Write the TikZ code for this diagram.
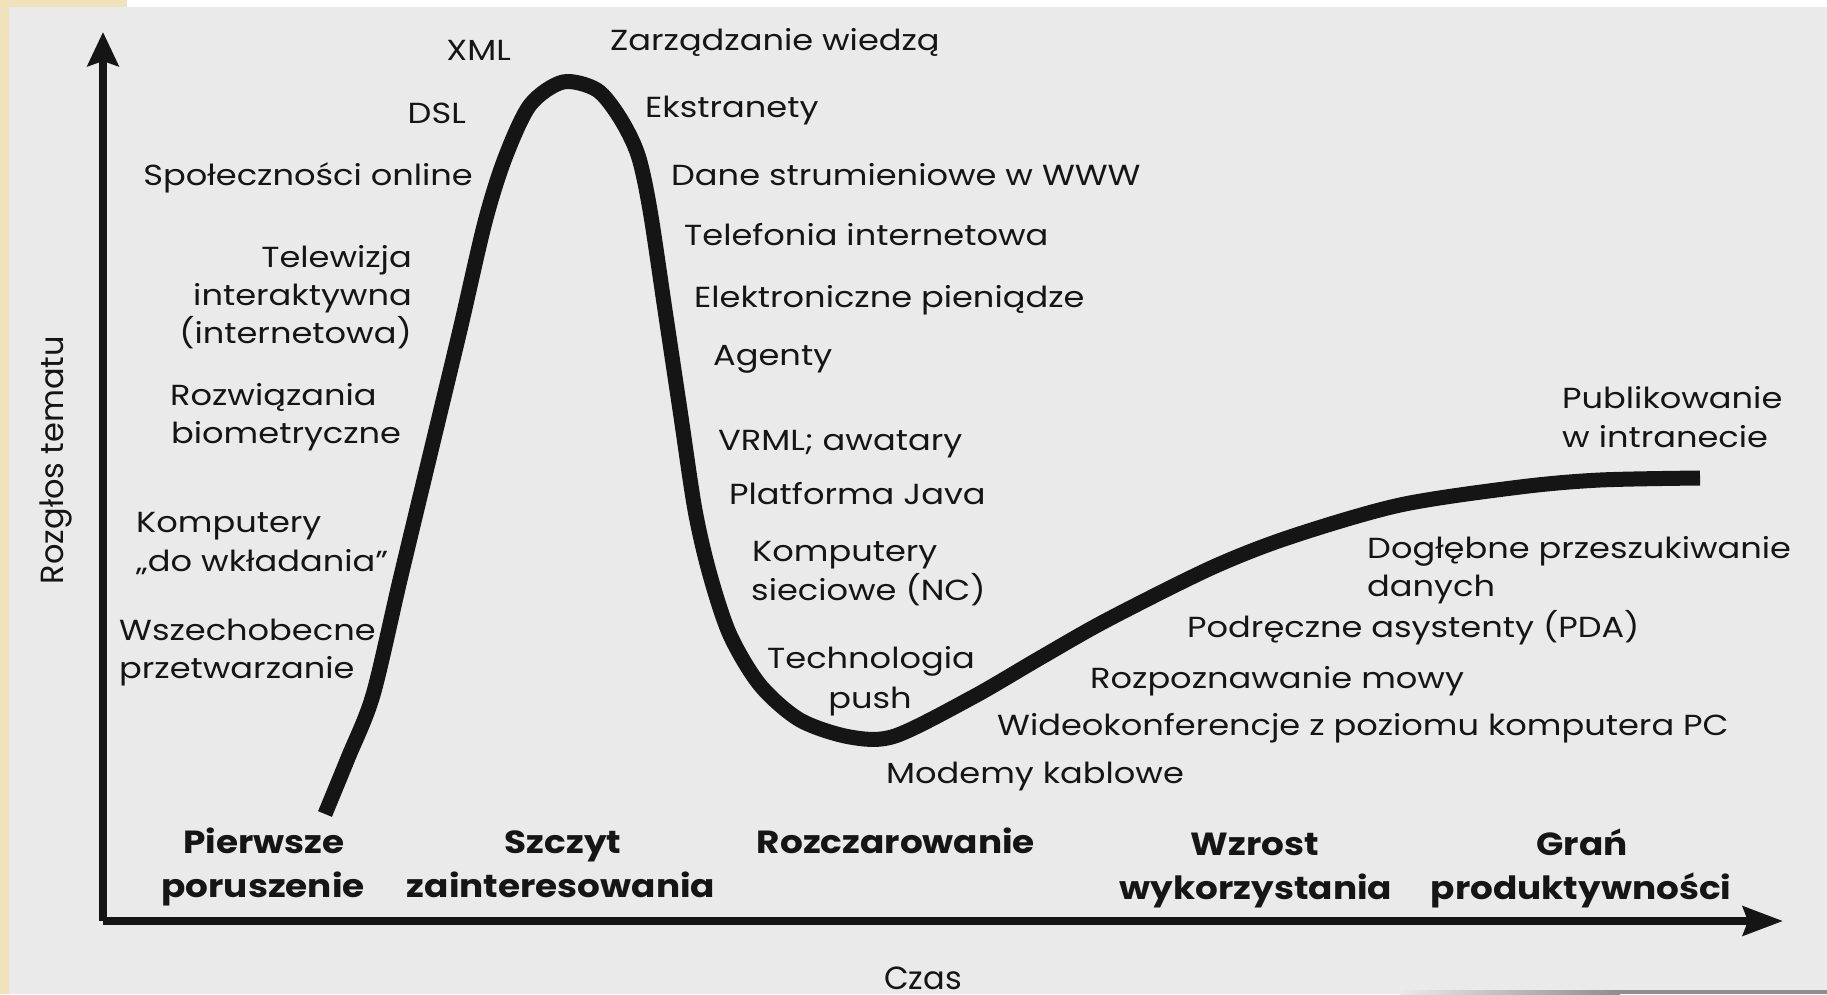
\documentclass[tikz,border=0pt]{standalone}
\usepackage{fontspec}
\newfontfamily\lblfam{Poppins}[FakeStretch=1.16]
\newfontfamily\phfam{Poppins}[FakeStretch=1.12]
\newfontfamily\axfam{Poppins}
\usetikzlibrary{arrows.meta}
\definecolor{bg}{HTML}{EAEAEA}
\definecolor{ink}{HTML}{151515}
\definecolor{beige}{HTML}{F0E2BA}
\definecolor{edgegray}{HTML}{8E8E8E}
\begin{document}
\begin{tikzpicture}[x=1pt,y=-1pt,
  lbl/.style={font=\lblfam\fontsize{29}{35}\selectfont, text=ink, inner sep=0pt},
  lw/.style={lbl, anchor=base west},
  le/.style={lbl, anchor=base east},
  lc/.style={lbl, anchor=base},
  phase/.style={font=\phfam\bfseries\fontsize{32}{38}\selectfont, text=ink, inner sep=0pt, anchor=base},
  axislbl/.style={font=\axfam\fontsize{32}{38}\selectfont, text=ink, inner sep=0pt},
  axisline/.style={line width=7.5pt, draw=ink},
  hype/.style={line width=15pt, draw=ink, line join=round, line cap=butt}]
% background and scan edges
\useasboundingbox (0,0) rectangle (1827,994);
\fill[bg] (0,0) rectangle (1827,994);
\fill[white] (127,0) rectangle (1827,7);
\fill[beige] (0,0) rectangle (127,7);
\fill[beige] (0,0) rectangle (9,994);
\shade[left color=bg, right color=edgegray] (1400,990) rectangle (1620,994);
\fill[edgegray] (1620,990) rectangle (1827,994);
% axes
\coordinate (O) at (103,921);
\coordinate (ytip) at (103,32);
\coordinate (xtip) at (1783,921);
\draw[axisline, -{Stealth[length=34pt, width=31pt, inset=5pt]}] (O) -- (ytip);
\draw[axisline, -{Stealth[length=40pt, width=29pt, inset=5pt]}] (O) -- (xtip);
% hype curve
\draw[hype] plot[smooth, tension=0.5] coordinates {
 (325,814) (348,758) (373,695) (400,580) (430,455) (460,330) (485,222)
 (505,158) (530,105) (563,82) (597,90) (620,118) (638,155) (650,210)
 (665,310) (680,410) (695,510) (710,575) (730,635) (760,685) (800,720)
 (850,737) (895,736) (973,697) (1040,658) (1107,620) (1211,568)
 (1290,537) (1400,505) (1520,487) (1600,480) (1700,478)};
% left labels
\node[le] (xml) at (511,60) {XML};
\node[le] (dsl) at (466,123) {DSL};
\node[le] (spol) at (473,185) {Społeczności online};
\node[le] (tv1) at (412,267) {Telewizja};
\node[le] (tv2) at (412,305) {interaktywna};
\node[le] (tv3) at (412,343) {(internetowa)};
\node[lw] (bio1) at (170,405) {Rozwiązania};
\node[lw] (bio2) at (171,443) {biometryczne};
\node[lw] (kw1) at (136,532) {Komputery};
\node[lw] (kw2) at (136,571) {„do wkładania”};
\node[lw] (wp1) at (119,640) {Wszechobecne};
\node[lw] (wp2) at (119,678) {przetwarzanie};
% right of peak
\node[lw] (zw) at (610,50) {Zarządzanie wiedzą};
\node[lw] (eks) at (645,117) {Ekstranety};
\node[lw] (dane) at (671,185) {Dane strumieniowe w WWW};
\node[lw] (tel) at (684,245) {Telefonia internetowa};
\node[lw] (epi) at (694,307) {Elektroniczne pieniądze};
\node[lw] (agenty) at (713,365) {Agenty};
\node[lw] (vrml) at (718,450) {VRML; awatary};
\node[lw] (java) at (729,504) {Platforma Java};
\node[lw] (nc1) at (752,561) {Komputery};
\node[lw] (nc2) at (751,600) {sieciowe (NC)};
\node[lc] (push1) at (871,668) {Technologia};
\node[lc] (push2) at (870,708) {push};
\node[lw] (modem) at (886,783) {Modemy kablowe};
\node[lw] (wideo) at (997,735) {Wideokonferencje z poziomu komputera PC};
\node[lw] (mowa) at (1090,688) {Rozpoznawanie mowy};
\node[lw] (pda) at (1187,637) {Podręczne asystenty (PDA)};
\node[lw] (dog1) at (1367,558) {Dogłębne przeszukiwanie};
\node[lw] (dog2) at (1367,596) {danych};
\node[lw] (pub1) at (1562,408) {Publikowanie};
\node[lw] (pub2) at (1562,447) {w intranecie};
% phases
\node[phase] (ph1a) at (264,853) {Pierwsze};
\node[phase] (ph1b) at (263,897) {poruszenie};
\node[phase] (ph2a) at (563,853) {Szczyt};
\node[phase] (ph2b) at (561,897) {zainteresowania};
\node[phase] (ph3) at (896,853) {Rozczarowanie};
\node[phase] (ph4a) at (1255,855) {Wzrost};
\node[phase] (ph4b) at (1256,899) {wykorzystania};
\node[phase] (ph5a) at (1582,855) {Grań};
\node[phase] (ph5b) at (1581,899) {produktywności};
% axis labels
\node[axislbl, anchor=base, rotate=90] (ylab) at (63,460) {Rozgłos tematu};
\node[axislbl, anchor=base west] (xlab) at (884,989) {Czas};
\end{tikzpicture}
\end{document}
